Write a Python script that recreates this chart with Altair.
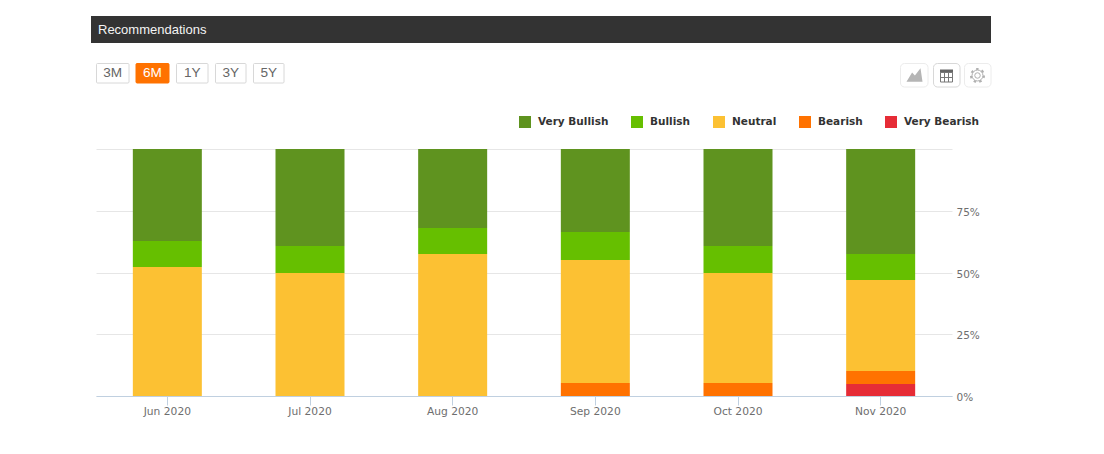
import altair as alt
import pandas as pd

months = ["Jun 2020", "Jul 2020", "Aug 2020", "Sep 2020", "Oct 2020", "Nov 2020"]
categories = ["Very Bullish", "Bullish", "Neutral", "Bearish", "Very Bearish"]
colors = ["#5f931f", "#66bf00", "#fcc133", "#ff7200", "#e62c36"]
very_bullish = [37.25, 39.3, 32.0, 33.6, 39.3, 42.5]
bullish = [10.5, 10.9, 10.5, 11.3, 10.9, 10.5]
neutral = [52.25, 49.8, 57.5, 49.8, 44.5, 36.9]
bearish = [0, 0, 0, 5.3, 5.3, 5.2]
very_bearish = [0, 0, 0, 0, 0, 4.9]
series = [very_bullish, bullish, neutral, bearish, very_bearish]
buttons = ["3M", "6M", "1Y", "3Y", "5Y"]

rows = []
for rank, (name, vals) in enumerate(zip(categories, series)):
    for m, v in zip(months, vals):
        rows.append({"month": m, "category": name, "value": v, "rank": 4 - rank})
df = pd.DataFrame(rows)

OX, OY = 96, 149
W, H = 856, 247
FONT = "DejaVu Sans"
ARIAL = "Liberation Sans"

bars = alt.Chart(df).mark_bar(size=69).encode(
    x=alt.X("month:N", sort=months, title=None,
            scale=alt.Scale(paddingInner=0, paddingOuter=0),
            axis=alt.Axis(labelAngle=0, labelFont=FONT, labelFontSize=10.7, labelColor="#6e6e6e",
                          labelPadding=1, domainColor="#c0d0e0", tickColor="#c0d0e0", tickSize=9,
                          grid=False)),
    y=alt.Y("value:Q", stack="zero", title=None,
            scale=alt.Scale(domain=[0, 100], nice=False),
            axis=alt.Axis(orient="right", values=[0, 25, 50, 75, 100], domain=False, ticks=False,
                          gridColor="#e6e6e6", labelFont=FONT, labelFontSize=10.5,
                          labelColor="#6e6e6e", labelPadding=4, labelOffset=1.5,
                          labelExpr="datum.value < 100 ? datum.value + '%' : ''")),
    color=alt.Color("category:N", sort=categories, title=None,
                    scale=alt.Scale(domain=categories, range=colors),
                    legend=alt.Legend(orient="none", legendX=519 - OX, legendY=116 - OY,
                                      direction="horizontal", columns=5, symbolType="square",
                                      symbolSize=144, symbolStrokeWidth=0, symbolOpacity=1,
                                      labelFont=FONT, labelFontSize=10.5, labelFontWeight="bold",
                                      labelColor="#333333", columnPadding=22, labelOffset=7)),
    order=alt.Order("rank:Q"),
)


def box(x0, y0, x1, y1, fill, stroke=None, radius=0):
    kw = {"cornerRadius": radius} if radius else {}
    if stroke:
        kw.update(stroke=stroke, strokeWidth=1)
    return alt.Chart().mark_rect(fill=fill, **kw).encode(
        x=alt.value(x0 - OX), x2=alt.value(x1 - OX), y=alt.value(y0 - OY), y2=alt.value(y1 - OY))


def label(x, y, s, color, size, align="center", font=ARIAL, weight="normal"):
    return alt.Chart().mark_text(text=s, color=color, fontSize=size, font=font, align=align,
                                 baseline="middle", fontWeight=weight).encode(
        x=alt.value(x - OX), y=alt.value(y - OY))


chrome = [box(91, 16, 991, 43, "#333333"),
          label(98, 29.5, "Recommendations", "#f4f4f4", 13, align="left")]

edges = [(96.5, 129), (136, 169), (176.5, 208), (215.5, 246), (253.5, 284)]
for b, (a, z) in zip(buttons, edges):
    active = b == "6M"
    chrome.append(box(a, 63.5, z, 83, "#ff7200" if active else "#ffffff",
                      "#ff7200" if active else "#d8d8d8", 1))
    chrome.append(label((a + z) / 2, 73, b, "#ffffff" if active else "#666666", 13.6))

# toolbar buttons
chrome.append(box(900.5, 63.5, 928, 87, "#ffffff", "#ececec", 4))
chrome.append(box(933.5, 63.5, 960, 87, "#ffffff", "#d8d8d8", 4))
chrome.append(box(964.5, 63.5, 991, 87, "#ffffff", "#ececec", 4))

# area-chart icon
area_path = "M-1 0.85 L-0.3 -0.3 L0.05 0.05 L0.75 -0.85 L1 0.85 Z"
chrome.append(alt.Chart().mark_point(shape=area_path, filled=True, color="#b5b5b5", opacity=1, size=256).encode(
    x=alt.value(914.5 - OX), y=alt.value(75 - OY)))

# table icon
chrome.append(box(940, 69.5, 953, 73, "#666666"))
chrome.append(box(940.5, 72.5, 952.5, 82, "#ffffff", "#777777"))
for gx in (944.5, 948.5):
    chrome.append(alt.Chart().mark_rule(color="#777777").encode(
        x=alt.value(gx - OX), y=alt.value(73 - OY), y2=alt.value(82 - OY)))
chrome.append(alt.Chart().mark_rule(color="#777777").encode(
    x=alt.value(941 - OX), x2=alt.value(952 - OX), y=alt.value(77.5 - OY)))

# gear icon
chrome.append(alt.Chart().mark_point(shape="circle", filled=False, color="#b0b0b0", size=30, strokeWidth=1, opacity=1).encode(
    x=alt.value(977.5 - OX), y=alt.value(75.5 - OY)))
chrome.append(alt.Chart().mark_point(shape="circle", filled=False, color="#b0b0b0", size=120, strokeWidth=1, opacity=1).encode(
    x=alt.value(977.5 - OX), y=alt.value(75.5 - OY)))
chrome.append(alt.Chart().mark_point(shape="circle", filled=False, color="#b0b0b0", size=170, strokeWidth=2, opacity=1,
                                     strokeDash=[2.5, 3.2]).encode(
    x=alt.value(977.5 - OX), y=alt.value(75.5 - OY)))

chart = alt.layer(bars, *chrome).properties(
    width=W, height=H,
    padding={"left": OX - 8, "top": OY - 8, "right": 130, "bottom": 30},
    autosize=alt.AutoSizeParams(type="none"),
    background="#ffffff",
).configure_view(stroke=None)

chart.save("out.html", embed_options={"renderer": "svg", "actions": False})
